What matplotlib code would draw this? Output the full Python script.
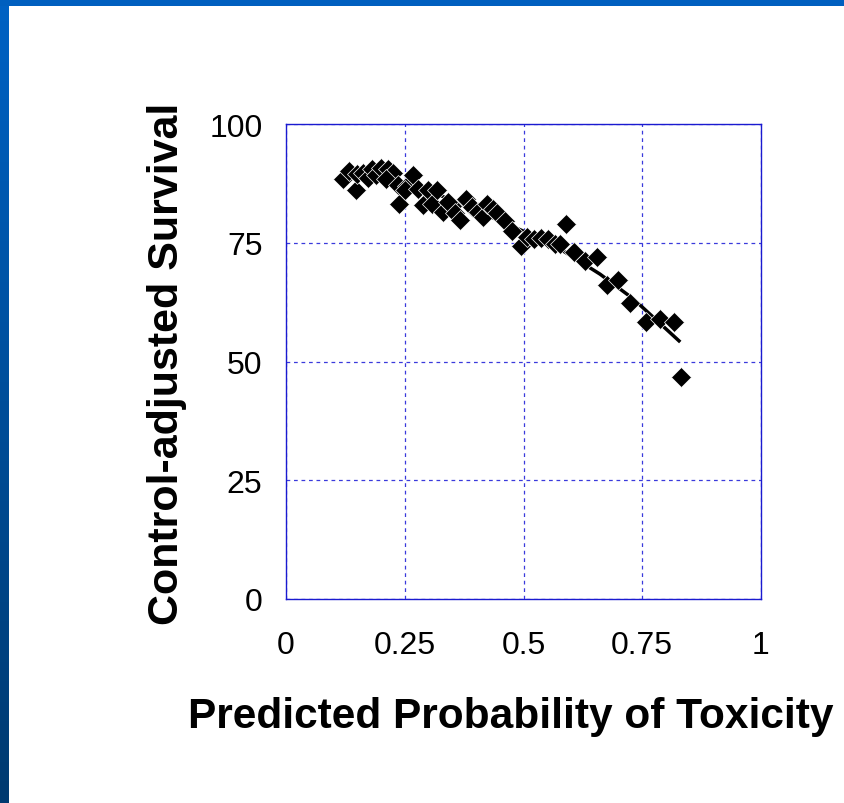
import numpy as np
import matplotlib
matplotlib.use("Agg")
import matplotlib.pyplot as plt
from matplotlib.colors import LinearSegmentedColormap

# Observed survival vs. predicted probability of toxicity
prob = [0.120, 0.133, 0.147, 0.150, 0.162, 0.172, 0.181, 0.190, 0.200, 0.215,
        0.225, 0.210, 0.238, 0.235, 0.255, 0.267, 0.250, 0.278, 0.288, 0.299,
        0.308, 0.318, 0.330, 0.350, 0.341, 0.355, 0.366, 0.379, 0.392, 0.404,
        0.414, 0.423, 0.436, 0.444, 0.461, 0.476, 0.495, 0.507, 0.522, 0.537,
        0.552, 0.566, 0.589, 0.577, 0.606, 0.630, 0.655, 0.676, 0.699, 0.724,
        0.758, 0.787, 0.817, 0.832]
survival = [88.4, 90.1, 86.1, 89.5, 89.7, 88.6, 90.5, 89.3, 90.7, 90.5,
            89.7, 88.4, 83.2, 87.2, 86.9, 89.3, 86.1, 86.3, 83.0, 86.1,
            83.2, 86.1, 81.5, 82.7, 83.5, 81.3, 79.8, 84.2, 82.5, 81.5,
            80.4, 83.2, 82.1, 81.3, 79.6, 77.5, 74.3, 76.2, 75.8, 76.0,
            75.8, 74.7, 79.0, 74.7, 73.1, 71.2, 72.0, 66.1, 67.2, 62.3,
            58.3, 58.9, 58.3, 46.7]

# Smoothed trend through the observations
trend_prob = [0.13, 0.20, 0.30, 0.40, 0.48, 0.556, 0.661, 0.731, 0.83]
trend_surv = [88.8, 88.9, 86.0, 81.8, 78.3, 75.0, 68.4, 63.2, 54.1]

x_ticks = [0, 0.25, 0.5, 0.75, 1]
x_tick_labels = ["0", "0.25", "0.5", "0.75", "1"]
y_ticks = [0, 25, 50, 75, 100]
y_tick_labels = ["0", "25", "50", "75", "100"]

plt.rcParams['font.family'] = ['Liberation Sans', 'DejaVu Sans']

W, H = 845, 804
fig = plt.figure(figsize=(W / 100, H / 100), dpi=100)
fig.patch.set_facecolor('white')

# Slide frame: gradient band on the left, solid band along the top
frame_cmap = LinearSegmentedColormap.from_list("frame", ["#0062c4", "#003a70"])
band = fig.add_axes([0, 0, 9 / W, 1])
band.imshow(np.linspace(0, 1, 256).reshape(-1, 1), aspect='auto', cmap=frame_cmap,
            extent=[0, 1, 0, 1], origin='upper')
band.set_axis_off()
top = fig.add_axes([0, 1 - 7 / H, 1, 7 / H])
top.set_facecolor('#005fbf')
top.set_xticks([])
top.set_yticks([])
for s in top.spines.values():
    s.set_visible(False)

ax = fig.add_axes([286 / W, (H - 600) / H, 475 / W, 475 / H])
ax.set_xlim(0, 1)
ax.set_ylim(0, 100)

ax.grid(True, color='#3a3adc', linestyle=(0, (3, 3)), linewidth=0.9)
ax.set_axisbelow(True)

ax.plot(trend_prob, trend_surv, color='black', linewidth=2.5, zorder=2,
        solid_capstyle='butt')
ax.plot(prob, survival, linestyle='none', marker='D', markersize=10,
        color='black', markeredgecolor='white', markeredgewidth=0.5, zorder=3)

for s in ax.spines.values():
    s.set_color('#1a1ad0')
    s.set_linewidth(1.0)

ax.set_xticks(x_ticks)
ax.set_xticklabels(x_tick_labels)
ax.set_yticks(y_ticks)
ax.set_yticklabels(y_tick_labels)
ax.tick_params(axis='x', direction='in', length=0, pad=22, labelsize=23)
ax.tick_params(axis='y', direction='in', length=0, pad=17, labelsize=23)

fig.text(511 / W, 1 - 717 / H, "Predicted Probability of Toxicity",
         ha='center', va='center', fontsize=30.5, fontweight='bold')
fig.text(167 / W, 1 - 364 / H, "Control-adjusted Survival",
         ha='center', va='center', rotation=90, fontsize=31, fontweight='bold')

fig.savefig("out.png", dpi=100, facecolor=fig.get_facecolor())
